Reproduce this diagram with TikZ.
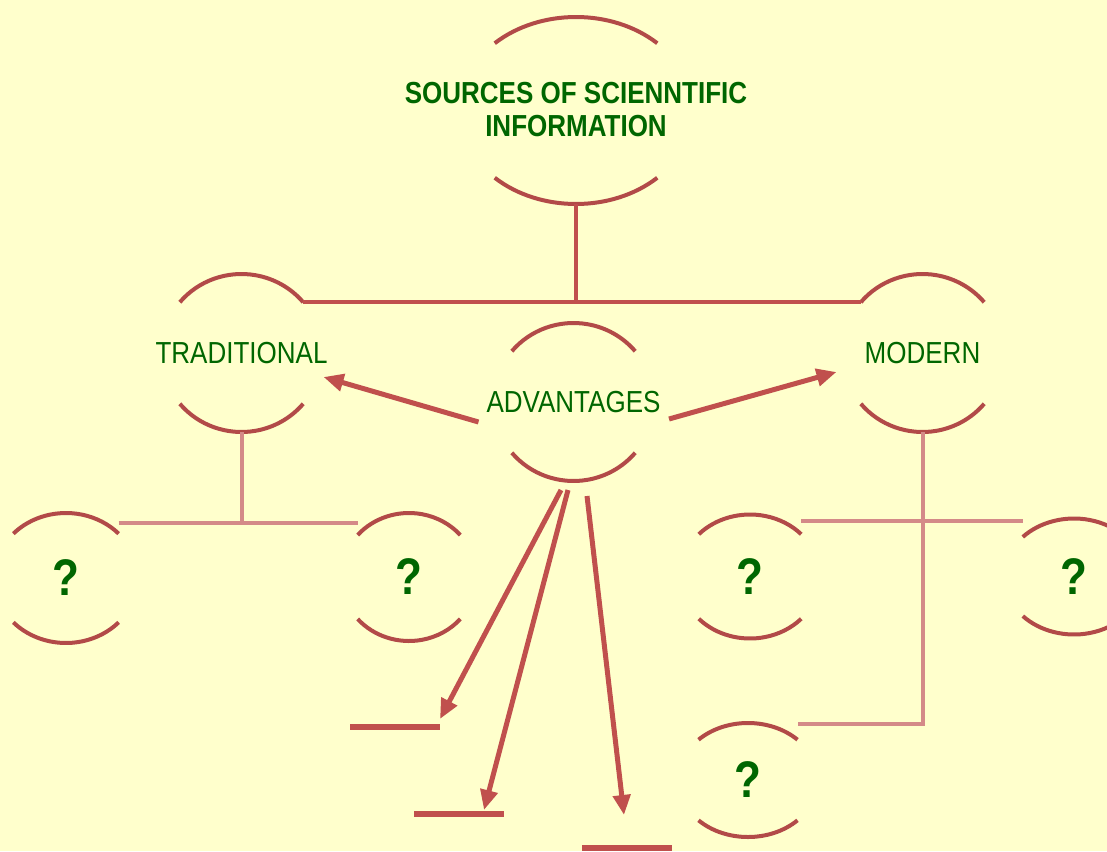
\documentclass[tikz,border=0pt]{standalone}
\usepackage{fontspec}
\setmainfont{Liberation Sans}
\usepackage{graphicx}
\usepackage{tikz}
\usetikzlibrary{arrows.meta,calc}
\definecolor{PaperYellow}{HTML}{FFFFCC}
\definecolor{ArcRed}{HTML}{B24A48}
\definecolor{LinkRed}{HTML}{C0504D}
\definecolor{LinkPink}{HTML}{D48A88}
\definecolor{LeafGreen}{HTML}{006600}

\tikzset{
  arcline/.style={line width=4pt, ArcRed},
  link/.style={line width=4pt, LinkRed},
  sublink/.style={line width=4pt, LinkPink},
  pointer/.style={line width=5pt, LinkRed, -{Triangle[length=20pt,width=17pt]}},
  blankline/.style={line width=6pt, LinkRed},
  topictext/.style={text=LeafGreen, inner sep=0pt, align=center, font=\fontsize{26}{28}\selectfont\bfseries},
  concepttext/.style={text=LeafGreen, inner sep=0pt, font=\fontsize{26}{28}\selectfont},
  asktext/.style={text=LeafGreen, inner sep=0pt, font=\fontsize{44}{46}\selectfont\bfseries}
}

% stretched text, as in the slide
\newcommand{\tall}[1]{\scalebox{1}[1.17]{#1}}

% two arcs above and below a node: node, x radius, y radius, angle
\newcommand{\arcpair}[4]{%
  \coordinate (#1-ne) at ($(#1.center)+(#4:#2 and #3)$);
  \coordinate (#1-nw) at ($(#1.center)+(180-#4:#2 and #3)$);
  \coordinate (#1-sw) at ($(#1.center)+(180+#4:#2 and #3)$);
  \coordinate (#1-se) at ($(#1.center)+(360-#4:#2 and #3)$);
  \coordinate (#1-s) at ($(#1.center)+(0,-#3)$);
  \draw[arcline] (#1-nw) arc[start angle=180-#4, end angle=#4, x radius=#2, y radius=#3];
  \draw[arcline] (#1-sw) arc[start angle=180+#4, end angle=360-#4, x radius=#2, y radius=#3];
}

\begin{document}
\begin{tikzpicture}[x=1pt, y=1pt]
    % Background
    \useasboundingbox (0,0) rectangle (1107,-851);
    \fill[PaperYellow] (0,0) rectangle (1107,-851);

    % Main topic
    \coordinate (srcring) at (576,-110.5);
    \node[topictext] (src) at ([yshift=-3pt]srcring) {\tall{\begin{tabular}{@{}c@{}}SOURCES OF SCIENNTIFIC\\INFORMATION\end{tabular}}};
    \arcpair{srcring}{117}{93.5}{46}

    % Second level
    \node[concepttext] (trad) at (241.5,-353) {\tall{TRADITIONAL}};
    \arcpair{trad}{80.5}{79}{40}
    \node[concepttext] (mod) at (922.5,-353) {\tall{MODERN}};
    \arcpair{mod}{80.5}{79}{40}
    \node[concepttext] (adv) at (573.5,-402) {\tall{ADVANTAGES}};
    \arcpair{adv}{80.5}{79}{40}

    % Unknown sources (traditional)
    \node[asktext] (q1) at (66,-578) {\tall{?}};
    \arcpair{q1}{72}{65}{43}
    \node[asktext] (q2) at (409,-577) {\tall{?}};
    \arcpair{q2}{68}{64}{41}

    % Unknown sources (modern)
    \node[asktext] (q3) at (750,-576.5) {\tall{?}};
    \arcpair{q3}{70}{62}{43}
    \node[asktext] (q4) at (1074,-576.5) {\tall{?}};
    \arcpair{q4}{70}{58}{43}
    \node[asktext] (q5) at (748,-780) {\tall{?}};
    \arcpair{q5}{70}{57}{45}

    % Tree links
    \coordinate (topjoin) at (srcring-s |- trad-ne);
    \draw[link] (srcring-s) -- (topjoin);
    \draw[link] (trad-ne) -- (mod-nw);

    \coordinate (tradjoin) at ($(trad-s)+(0,-91)$);
    \draw[sublink] (trad-s) -- (tradjoin);
    \draw[sublink] (q1-ne |- tradjoin) -- (q2-nw |- tradjoin);

    \coordinate (modjoin) at ($(mod-s)+(0,-89)$);
    \coordinate (modend) at ($(mod-s)+(0,-292)$);
    \draw[sublink] (mod-s) -- (modend) -- (q5-ne |- modend);
    \draw[sublink] (q3-ne |- modjoin) -- (q4-nw |- modjoin);

    % Advantages to both kinds
    \draw[pointer] ($(adv)+(-95,-20)$) -- ($(trad)+(82,-24)$);
    \draw[pointer] ($(adv)+(95.5,-17)$) -- ($(mod)+(-86,-19)$);

    % Blanks to fill in
    \coordinate (blank1) at (395,-727);
    \coordinate (blank2) at (459,-814);
    \coordinate (blank3) at (627,-848);
    \draw[blankline] ([xshift=-45pt]blank1) -- ([xshift=45pt]blank1);
    \draw[blankline] ([xshift=-45pt]blank2) -- ([xshift=45pt]blank2);
    \draw[blankline] ([xshift=-45pt]blank3) -- ([xshift=45pt]blank3);

    \draw[pointer] ($(adv)+(-12.5,-88)$) -- ($(blank1)+(45,8)$);
    \draw[pointer] ($(adv)+(-5.5,-88)$) -- ($(blank2)+(25,4)$);
    \draw[pointer] ($(adv)+(13.5,-94)$) -- ($(blank3)+(-3,33)$);
\end{tikzpicture}
\end{document}
